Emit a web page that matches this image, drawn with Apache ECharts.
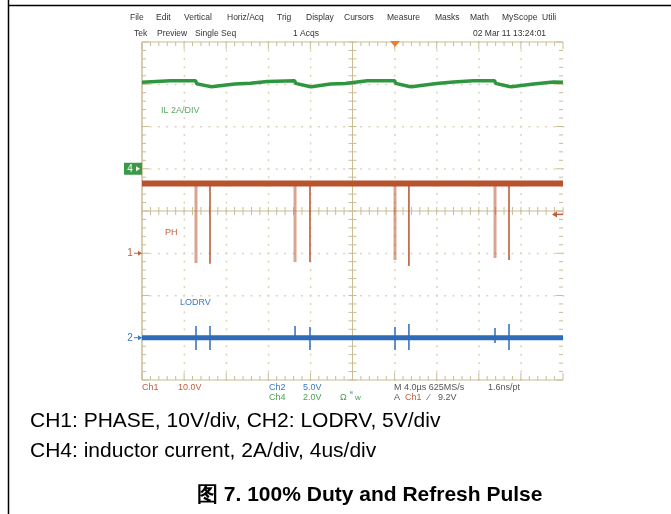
<!DOCTYPE html>
<html>
<head>
<meta charset="utf-8">
<script src="https://cdn.jsdelivr.net/npm/echarts@6/dist/echarts.min.js"></script>
<style>
html,body{margin:0;padding:0;background:#fff;}
#main{width:671px;height:514px;}
</style>
</head>
<body>
<div id="main"></div>
<script>
// scope settings: 4us/div, 10 x 8 divisions
var usPerDiv = 4;
// ground marker (div from bottom) and scale (unit/div) per channel
var chOffset = {ph: 3, lodrv: 1, il: 5};
var chScale = {ph: 10, lodrv: 5, il: 2};

// CH4 inductor current (us, A)
var ilTime = [0, 2.7, 5.1, 5.2, 6.4, 6.6, 8.8, 10.3, 11.9, 14.5, 14.6, 15.9, 16.1, 17.9, 19.3, 21.4, 24.0, 24.1, 25.4, 25.6, 28.0, 29.6, 31.5, 33.5, 33.6, 34.9, 35.1, 37.2, 39.1, 40];
var ilAmp  = [4.09, 4.16, 4.16, 4.02, 3.90, 3.88, 4.01, 4.05, 4.13, 4.17, 4.04, 3.89, 3.88, 4.01, 4.04, 4.17, 4.17, 4.04, 3.89, 3.88, 4.04, 4.11, 4.17, 4.17, 4.04, 3.89, 3.88, 4.01, 4.11, 4.09];

// CH1 phase node: high level and refresh pulses (us, V)
var phHigh = 16.5;
var pulseTime = [5.13, 6.46, 14.54, 15.96, 24.04, 25.36, 33.54, 34.87];
var phLow = [-2.3, -2.5, -2.1, -2.1, -1.6, -3.0, -1.1, -1.6];

// CH2 LODRV: baseline and spikes at the pulses (V)
var loBase = 0;
var loSpikeHi = [1.39, 1.39, 1.39, 1.27, 1.27, 1.63, 1.15, 1.63];
var loSpikeLo = [-1.45, -1.45, -0.27, -1.45, -1.45, -1.45, -0.62, -1.45];

var trigLevel = 9.2;   // V on ch1
var trigTime = 24.04;  // us

function toDiv(ch, v){ return chOffset[ch] + v / chScale[ch]; }

var ilData = ilTime.map(function(t, i){ return [t, toDiv('il', ilAmp[i])]; });
var phBase = [[0, toDiv('ph', phHigh)], [40, toDiv('ph', phHigh)]];
var phPulseA = [], phPulseB = [];
pulseTime.forEach(function(t, i){
  var arr = (i % 2 === 0) ? phPulseA : phPulseB;
  arr.push([t, toDiv('ph', phHigh)], [t, toDiv('ph', phLow[i])], [t, '-']);
});
var loBaseData = [[0, toDiv('lodrv', loBase)], [40, toDiv('lodrv', loBase)]];
var loSpikes = [];
pulseTime.forEach(function(t, i){
  loSpikes.push([t, toDiv('lodrv', loSpikeHi[i])], [t, toDiv('lodrv', loSpikeLo[i])], [t, '-']);
});

var tan = '#cabc94', dotc = '#dcd3b6';

function graticule(params, api){
  var ch = [];
  function P(xd, yd){ return api.coord([xd * usPerDiv, yd]); }
  function ln(a, b, c, w){
    ch.push({type:'line', shape:{x1:a[0], y1:a[1], x2:b[0], y2:b[1]}, style:{stroke:c, lineWidth:w || 1}});
  }
  var i, j, p;
  // dotted grid
  for (i = 1; i < 10; i++) {
    if (i === 5) continue;
    for (j = 0; j <= 40; j++) {
      p = P(i, j * 0.2);
      ch.push({type:'rect', shape:{x:p[0]-0.5, y:p[1]-1, width:1.5, height:2}, style:{fill:dotc}});
    }
  }
  for (i = 1; i < 8; i++) {
    if (i === 4) continue;
    for (j = 0; j <= 50; j++) {
      p = P(j * 0.2, i);
      ch.push({type:'rect', shape:{x:p[0]-1, y:p[1]-0.5, width:2, height:1.5}, style:{fill:dotc}});
    }
  }
  // border
  ln(P(0,0), P(0,8), tan, 1.5);
  ln(P(0,0), P(10,0), tan, 1);
  ln(P(0,8), P(10,8), tan, 1);
  // border ticks
  for (j = 0; j <= 50; j++) {
    var L = (j % 5 === 0) ? 7 : 4;
    p = P(j * 0.2, 0); ln([p[0], p[1]], [p[0], p[1] - L], tan, 1);
    p = P(j * 0.2, 8); ln([p[0], p[1]], [p[0], p[1] + L], tan, 1);
  }
  for (j = 0; j <= 40; j++) {
    var L2 = (j % 5 === 0) ? 7 : 4;
    p = P(0, j * 0.2); ln([p[0], p[1]], [p[0] + L2, p[1]], tan, 1);
    p = P(10, j * 0.2); ln([p[0], p[1]], [p[0] - L2, p[1]], tan, 1);
  }
  // center cross
  ln(P(5,0), P(5,8), tan, 1);
  ln(P(0,4), P(10,4), tan, 1);
  for (j = 0; j <= 50; j++) {
    p = P(j * 0.2, 4); ln([p[0], p[1]-4], [p[0], p[1]+4], tan, 1);
  }
  for (j = 0; j <= 40; j++) {
    p = P(5, j * 0.2); ln([p[0]-4, p[1]], [p[0]+4, p[1]], tan, 1);
  }
  // trigger position marker (top)
  p = api.coord([trigTime, 8]);
  ch.push({type:'polygon', shape:{points:[[p[0]-5, p[1]-1],[p[0]+5, p[1]-1],[p[0], p[1]+5]]}, style:{fill:'#f07a2e'}});
  // trigger level arrow (right)
  p = api.coord([40, toDiv('ph', trigLevel)]);
  ln([p[0]-10, p[1]], [p[0], p[1]], '#c0603c', 1.5);
  ch.push({type:'polygon', shape:{points:[[p[0]-11, p[1]],[p[0]-6, p[1]-3],[p[0]-6, p[1]+3]]}, style:{fill:'#c0603c'}});
  // channel ground markers (left)
  p = api.coord([0, chOffset.il]);
  ch.push({type:'rect', shape:{x:p[0]-18, y:p[1]-6, width:18, height:12}, style:{fill:'#3a9a48'}});
  ch.push({type:'text', style:{text:'4', x:p[0]-12, y:p[1], fill:'#fff', font:'10px "Liberation Sans"', verticalAlign:'middle', align:'center'}});
  ch.push({type:'polygon', shape:{points:[[p[0]-2, p[1]],[p[0]-6, p[1]-2.5],[p[0]-6, p[1]+2.5]]}, style:{fill:'#fff'}});
  p = api.coord([0, chOffset.ph]);
  ch.push({type:'text', style:{text:'1', x:p[0]-12, y:p[1], fill:'#c0603c', font:'10px "Liberation Sans"', verticalAlign:'middle', align:'center'}});
  ln([p[0]-8, p[1]], [p[0]-1, p[1]], '#c0603c', 1);
  ch.push({type:'polygon', shape:{points:[[p[0], p[1]],[p[0]-4, p[1]-2.5],[p[0]-4, p[1]+2.5]]}, style:{fill:'#c0603c'}});
  p = api.coord([0, chOffset.lodrv]);
  ch.push({type:'text', style:{text:'2', x:p[0]-12, y:p[1], fill:'#3a78c0', font:'10px "Liberation Sans"', verticalAlign:'middle', align:'center'}});
  ln([p[0]-8, p[1]], [p[0]-1, p[1]], '#3a78c0', 1);
  ch.push({type:'polygon', shape:{points:[[p[0], p[1]],[p[0]-4, p[1]-2.5],[p[0]-4, p[1]+2.5]]}, style:{fill:'#3a78c0'}});
  return {type:'group', children:ch};
}

function txt(s, x, y, color, size, weight, align){
  return {type:'text', left:x, top:y, style:{text:s, fill:color, font:(weight||'normal') + ' ' + size + 'px "Liberation Sans", Arial, sans-serif', textAlign:align||'left'}};
}

var menuItems = ['File','Edit','Vertical','Horiz/Acq','Trig','Display','Cursors','Measure','Masks','Math','MyScope','Utili'];
var menuX = [130,156,184,227,277,306,344,387,435,470,502,542];
var statusItems = ['Tek','Preview','Single Seq','1 Acqs','02 Mar 11 13:24:01'];
var statusX = [134,157,195,293,473];

var graphics = [];
// page border lines
graphics.push({type:'line', shape:{x1:8.5, y1:0, x2:8.5, y2:514}, style:{stroke:'#000', lineWidth:1.5}});
graphics.push({type:'line', shape:{x1:8, y1:5.5, x2:671, y2:5.5}, style:{stroke:'#000', lineWidth:1.5}});
menuItems.forEach(function(s, i){ graphics.push(txt(s, menuX[i], 13, '#333', 8.5)); });
statusItems.forEach(function(s, i){ graphics.push(txt(s, statusX[i], 29, '#333', 8.5)); });
graphics.push(txt('IL 2A/DIV', 161, 106, '#5aa860', 9));
graphics.push(txt('PH', 165, 228, '#c0603c', 9));
graphics.push(txt('LODRV', 180, 298, '#3a78c0', 9));
graphics.push(txt('Ch1', 142, 383, '#c0603c', 9));
graphics.push(txt('10.0V', 178, 383, '#c0603c', 9));
graphics.push(txt('Ch2', 269, 383, '#3a78c0', 9));
graphics.push(txt('5.0V', 303, 383, '#3a78c0', 9));
graphics.push(txt('Ch4', 269, 393, '#4aa050', 9));
graphics.push(txt('2.0V', 303, 393, '#4aa050', 9));
graphics.push(txt('\u03a9', 340, 393, '#4aa050', 9));
graphics.push(txt('\u1d2e', 350, 391, '#4aa050', 7));
graphics.push(txt('w', 355, 394, '#4aa050', 8));
graphics.push(txt('M 4.0\u00b5s 625MS/s', 394, 383, '#555', 9));
graphics.push(txt('1.6ns/pt', 488, 383, '#555', 9));
graphics.push(txt('A', 394, 393, '#555', 9));
graphics.push(txt('Ch1', 405, 393, '#c0603c', 9));
graphics.push(txt('\u2044', 428, 393, '#555', 9));
graphics.push(txt('9.2V', 438, 393, '#555', 9));
graphics.push(txt('CH1: PHASE, 10V/div, CH2: LODRV, 5V/div', 30, 411, '#000', 21));
graphics.push(txt('CH4: inductor current, 2A/div, 4us/div', 30, 441, '#000', 21));
graphics.push(txt('\u56fe 7. 100% Duty and Refresh Pulse', 197, 485, '#000', 21, 'bold'));

var chart = echarts.init(document.getElementById('main'));
chart.setOption({
  animation: false,
  backgroundColor: '#fff',
  grid: {left: 142, right: 108, top: 42, bottom: 134},
  xAxis: {type: 'value', min: 0, max: 40, show: false},
  yAxis: {type: 'value', min: 0, max: 8, show: false},
  graphic: graphics,
  series: [
    {name: 'graticule', type: 'custom', data: [[0, 0]], renderItem: graticule, silent: true, z: 1, clip: false},
    {name: 'IL', type: 'line', data: ilData, showSymbol: false, lineStyle: {color: '#2f9640', width: 3.5}, z: 5},
    {name: 'PH', type: 'line', data: phBase, showSymbol: false, lineStyle: {color: '#b8532e', width: 6}, z: 5},
    {name: 'PH refresh', type: 'line', data: phPulseA, showSymbol: false, connectNulls: false, lineStyle: {color: 'rgba(190,90,55,0.55)', width: 3}, z: 4},
    {name: 'PH pulse', type: 'line', data: phPulseB, showSymbol: false, connectNulls: false, lineStyle: {color: '#b8532e', width: 1.5}, z: 4},
    {name: 'LODRV', type: 'line', data: loBaseData, showSymbol: false, lineStyle: {color: '#2e6cb8', width: 5}, z: 5},
    {name: 'LODRV spikes', type: 'line', data: loSpikes, showSymbol: false, connectNulls: false, lineStyle: {color: '#2e6cb8', width: 1.5}, z: 5}
  ]
});
</script>
</body>
</html>
